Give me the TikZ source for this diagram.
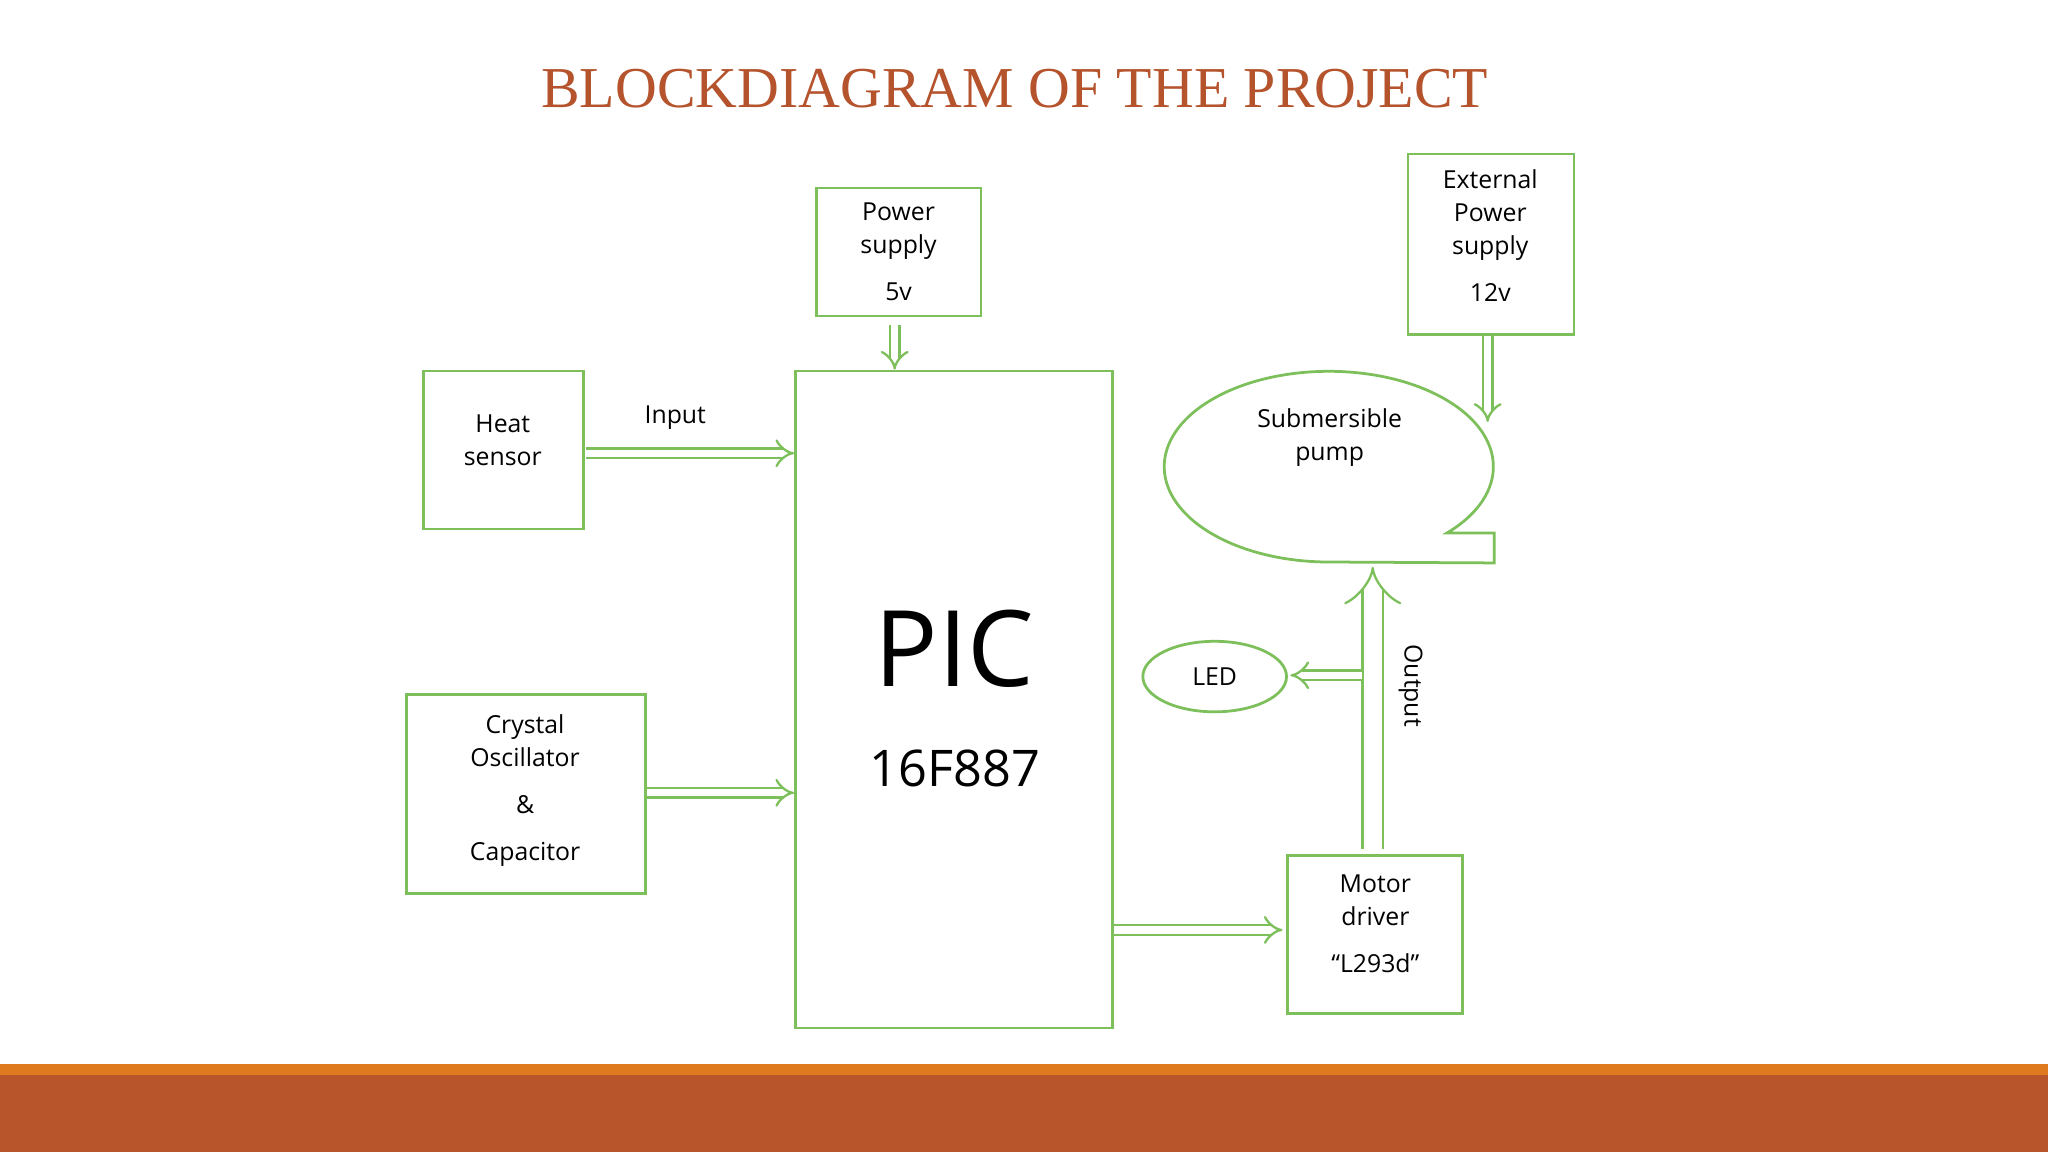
\documentclass[tikz,border=0pt]{standalone}
\usepackage{fontspec}
\setmainfont{Open Sans}
\newfontfamily\titlefont{Liberation Serif}
\usetikzlibrary{arrows.meta}
\definecolor{gr}{HTML}{7DBF5A}
\definecolor{rust}{HTML}{B9552B}
\definecolor{orng}{HTML}{E07A1F}
\definecolor{ttl}{HTML}{B5532D}
\tikzset{
  bline/.style={draw=gr,line width=0.6pt},
  harrow/.style={draw=gr,double=white,double distance=1.6pt,line width=0.5pt,-{Implies[length=4pt]}},
  lbl/.style={font=\fontsize{5.4pt}{7.2pt}\selectfont}
}
\begin{document}
\begin{tikzpicture}[x=0.01cm,y=-0.01cm]
\useasboundingbox (0,0) rectangle (1568,882);
\fill[white] (0,0) rectangle (1568,882);
\fill[orng] (0,815) rectangle (1568,823);
\fill[rust] (0,823) rectangle (1568,882);
\node[text=ttl,font=\titlefont\fontsize{12.6pt}{14pt}\selectfont] (title) at (777,68) {BLOCKDIAGRAM OF THE PROJECT};
% boxes
\draw[bline] (625,144) rectangle (751,242);
\node[lbl,align=center] (ps) at (688,193) {Power\\supply\\[3pt]5v};
\coordinate (psb) at (685,249);
\draw[bline] (1078,118) rectangle (1205,256);
\node[lbl,align=center] (eps) at (1141,180) {External\\Power\\supply\\[3pt]12v};
\coordinate (epsb) at (1139,257);
\draw[bline] (324,284) rectangle (447,405);
\node[lbl,align=center] (hs) at (385,337) {Heat\\sensor};
\draw[bline] (609,284) rectangle (852,787);
\node[font=\fontsize{23pt}{24pt}\selectfont] (pic) at (731,497) {PIC};
\node[font=\fontsize{11pt}{12pt}\selectfont] (picn) at (731,588) {16F887};
\draw[bline] (311,532) rectangle (494,684);
\node[lbl,align=center] (co) at (402,605) {Crystal\\Oscillator\\[3pt]\&\\[3pt]Capacitor};
\draw[bline] (986,655) rectangle (1120,776);
\node[lbl,align=center] (md) at (1053,707) {Motor\\driver\\[3pt]``L293d''};
% pump
\draw[bline] (1108,408) arc[start angle=44,end angle=-270,x radius=126,y radius=73]
  -- (1144,431) -- (1144,408) -- cycle;
\node[lbl,align=center] (pump) at (1018,335) {Submersible\\pump};
\draw[bline] (930,518) ellipse[x radius=55,y radius=27];
\node[lbl] (led) at (930,518) {LED};
% arrows
\draw[harrow] (psb) -- (685,283);
\draw[harrow] (epsb) -- (1139,323);
\draw[harrow] (449,347) -- (608,347);
\node[lbl] (inp) at (517,320) {Input};
\draw[harrow] (495,607) -- (608,607);
\draw[harrow] (853,712) -- (982,712);
\draw[draw=gr,double=white,double distance=4pt,line width=0.5pt,-{Implies[length=5pt]}] (1051,650) -- (1051,434);
\draw[harrow] (1043,517) -- (988,517);
\node[lbl,rotate=-90] (out) at (1080,525) {Output};
\end{tikzpicture}
\end{document}
